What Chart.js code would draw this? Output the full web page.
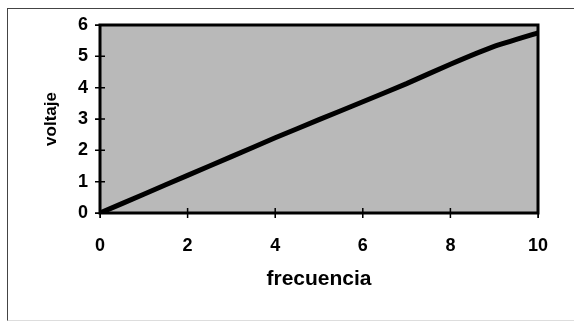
<!DOCTYPE html>
<html>
<head>
<meta charset="utf-8">
<script src="https://cdn.jsdelivr.net/npm/chart.js@4"></script>
<style>
  html, body { margin: 0; padding: 0; background: #fff; }
  #wrap { position: relative; width: 574px; height: 322px; overflow: hidden; }
  #frame { position: absolute; left: 7px; top: 8px; width: 600px; height: 311px;
           border-top: 1.5px solid #444; border-left: 1.5px solid #444; border-bottom: 1px solid #ddd; }
  canvas { position: absolute; left: 0; top: 0; }
</style>
</head>
<body>
<div id="wrap">
  <div id="frame"></div>
  <canvas id="chart" width="574" height="322"></canvas>
</div>
<script>
// --- Data ---
const frecuencia = [0, 1, 2, 3, 4, 5, 6, 7, 8, 9, 10];
const voltaje = [0, 0.6, 1.2, 1.8, 2.4, 2.98, 3.55, 4.13, 4.75, 5.32, 5.75];
const xTitle = 'frecuencia';
const yTitle = 'voltaje';

const FONT = '"Liberation Sans", Arial, sans-serif';

// grey plot area + black frame, ticks that cross the axis
const plotFrame = {
    id: 'plotFrame',
    beforeDatasetsDraw(chart) {
        const { ctx, chartArea: a } = chart;
        ctx.save();
        ctx.fillStyle = '#b9b9b9';
        ctx.fillRect(a.left, a.top, a.right - a.left, a.bottom - a.top);
        ctx.restore();
    },
    afterDraw(chart) {
        const { ctx, chartArea: a, scales } = chart;
        ctx.save();
        ctx.strokeStyle = '#000';
        ctx.lineWidth = 3;
        ctx.strokeRect(a.left, a.top, a.right - a.left, a.bottom - a.top);
        ctx.lineWidth = 1.5;
        ctx.beginPath();
        scales.x.ticks.forEach(t => {
            const px = scales.x.getPixelForValue(t.value);
            ctx.moveTo(px, a.bottom - 5);
            ctx.lineTo(px, a.bottom + 5);
        });
        scales.y.ticks.forEach(t => {
            const py = scales.y.getPixelForValue(t.value);
            ctx.moveTo(a.left - 5, py);
            ctx.lineTo(a.left + 5, py);
        });
        ctx.stroke();
        ctx.restore();
    }
};

new Chart(document.getElementById('chart'), {
    type: 'line',
    data: {
        labels: frecuencia,
        datasets: [{
            data: frecuencia.map((f, i) => ({ x: f, y: voltaje[i] })),
            borderColor: '#000',
            borderWidth: 5,
            pointRadius: 0,
            tension: 0.1,
            fill: false
        }]
    },
    options: {
        responsive: false,
        animation: false,
        layout: { padding: { left: 41, top: 25, right: 36, bottom: 30 } },
        plugins: { legend: { display: false }, tooltip: { enabled: false } },
        scales: {
            x: {
                type: 'linear', min: 0, max: 10,
                afterFit: s => { s.height = 79; },
                grid: { drawOnChartArea: false, drawTicks: true, tickLength: 5, color: '#000' },
                border: { display: false },
                ticks: { stepSize: 2, color: '#000', padding: 17, font: { family: FONT, size: 18, weight: 'bold' } },
                title: { display: true, text: xTitle, color: '#000', padding: { top: 0, bottom: 0 },
                         font: { family: FONT, size: 21, weight: 'bold' } }
            },
            y: {
                min: 0, max: 6,
                afterFit: s => { s.width = 59; },
                grid: { drawOnChartArea: false, drawTicks: true, tickLength: 5, color: '#000' },
                border: { display: false },
                ticks: { stepSize: 1, color: '#000', padding: 7, font: { family: FONT, size: 18, weight: 'bold' } },
                title: { display: true, text: yTitle, color: '#000', padding: 0,
                         font: { family: FONT, size: 17, weight: 'bold' } }
            }
        }
    },
    plugins: [plotFrame]
});
</script>
</body>
</html>
